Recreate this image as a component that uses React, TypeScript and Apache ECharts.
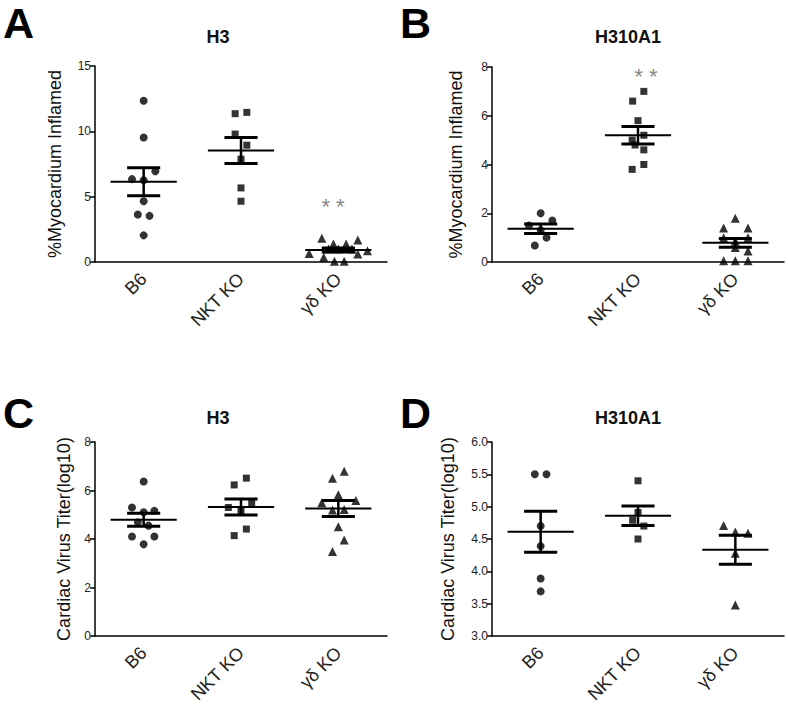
import React, { useEffect, useRef } from 'react';
import * as echarts from 'echarts';

const categories = ['B6', 'NKT KO', 'γδ KO'];
const panelLetters = ['A', 'B', 'C', 'D'];
const panelTitles = ['H3', 'H310A1', 'H3', 'H310A1'];
const yNames = ['%Myocardium Inflamed', '%Myocardium Inflamed', 'Cardiac Virus Titer(log10)', 'Cardiac Virus Titer(log10)'];
const yMin = [0, 0, 0, 3];
const yMax = [15, 8, 8, 6];
const yStep = [5, 2, 2, 0.5];

// Panel A (H3, % myocardium inflamed)
const aB6 = [12.34, 9.53, 6.34, 6.95, 6.26, 4.65, 3.63, 3.53, 2.04];
const aB6Jit = [0, 0, -0.12, 0.12, 0, 0, -0.06, 0.06, 0];
const aNkt = [11.35, 11.45, 9.79, 8.94, 7.87, 5.67, 4.65];
const aNktJit = [-0.06, 0.06, -0.06, 0.06, 0, 0, 0];
const aGd = [1.81, 1.68, 1.38, 1.38, 1.0, 1.0, 1.0, 0.87, 0.66, 0.62, 0.36, 0.05, 0.05];
const aGdJit = [-0.17, 0.2, -0.05, 0.08, -0.1, 0.0, 0.14, 0.3, -0.3, 0.2, -0.15, -0.04, 0.06];

// Panel B (H310A1, % myocardium inflamed)
const bB6 = [2.0, 1.7, 1.5, 1.3, 1.0, 0.68];
const bB6Jit = [0, 0.12, -0.12, 0, 0.06, -0.06];
const bNkt = [7.0, 6.6, 5.8, 5.2, 5.0, 4.8, 4.6, 4.0, 3.8];
const bNktJit = [0.06, -0.055, 0, 0.06, -0.06, -0.03, 0.06, 0.06, -0.06];
const bGd = [1.8, 1.4, 1.4, 1.0, 1.0, 0.85, 0.6, 0.45, 0.05, 0.05, 0.05];
const bGdJit = [0, -0.12, 0.13, -0.12, 0.13, 0, 0, 0.13, -0.12, 0, 0.13];

// Panel C (H3, cardiac virus titer)
const cB6 = [6.37, 5.3, 5.1, 5.16, 4.69, 4.55, 4.1, 4.1, 3.78];
const cB6Jit = [0, -0.12, 0, 0.11, -0.06, 0.05, -0.12, 0.11, 0];
const cNkt = [6.51, 6.23, 5.3, 5.48, 5.16, 4.41, 4.14];
const cNktJit = [0.055, -0.07, -0.13, 0.11, 0, 0.055, -0.07];
const cGd = [6.79, 6.51, 5.82, 5.5, 5.59, 5.2, 5.22, 4.51, 3.96, 3.48];
const cGdJit = [0.06, -0.06, 0, -0.17, 0.18, -0.06, 0.06, 0, 0.06, -0.06];

// Panel D (H310A1, cardiac virus titer)
const dB6 = [5.5, 5.5, 4.7, 4.39, 3.89, 3.69];
const dB6Jit = [-0.06, 0.06, 0, 0, 0, 0];
const dNkt = [5.4, 4.91, 4.79, 4.7, 4.5];
const dNktJit = [0, 0, -0.055, 0.06, 0];
const dGd = [4.71, 4.61, 4.59, 4.28, 3.48];
const dGdJit = [-0.12, 0, 0.13, 0, 0];

const panelGroups = [
  [[aB6, aB6Jit], [aNkt, aNktJit], [aGd, aGdJit]],
  [[bB6, bB6Jit], [bNkt, bNktJit], [bGd, bGdJit]],
  [[cB6, cB6Jit], [cNkt, cNktJit], [cGd, cGdJit]],
  [[dB6, dB6Jit], [dNkt, dNktJit], [dGd, dGdJit]],
];

const symbols = ['circle', 'rect', 'triangle'];
const symbolSizes = [8, 7, 9];

const grids = [
  { left: 95, top: 66, width: 292, height: 196 },
  { left: 492, top: 67, width: 292, height: 195 },
  { left: 95, top: 442, width: 292, height: 194 },
  { left: 492, top: 442, width: 292, height: 194 },
];
const nameGaps = [31, 27, 22, 35];

const FONT = '"Liberation Sans", Arial, Helvetica, sans-serif';

function mean(a: number[]) {
  return a.reduce((s, v) => s + v, 0) / a.length;
}
function sem(a: number[]) {
  const m = mean(a);
  const v = a.reduce((s, x) => s + (x - m) * (x - m), 0) / (a.length - 1);
  return Math.sqrt(v) / Math.sqrt(a.length);
}

export default function App() {
  const ref = useRef<HTMLDivElement>(null);
  useEffect(() => {
    if (!ref.current) return;
    const chart = echarts.init(ref.current, undefined, { renderer: 'svg' });
    const xAxis: any[] = [];
    const yAxis: any[] = [];
    const series: any[] = [];
    grids.forEach((g, i) => {
      xAxis.push({
        type: 'category',
        gridIndex: i,
        data: categories,
        boundaryGap: true,
        axisLine: { onZero: false, lineStyle: { color: '#000', width: 1.5 } },
        axisTick: { alignWithLabel: true, length: 5, lineStyle: { color: '#000', width: 1.5 } },
        axisLabel: { rotate: 45, fontSize: 18, color: '#222', margin: 14, fontFamily: FONT },
        splitLine: { show: false },
      });
      xAxis.push({ type: 'value', gridIndex: i, min: 0.5, max: 3.5, show: false });
      yAxis.push({
        type: 'value',
        gridIndex: i,
        min: yMin[i],
        max: yMax[i],
        interval: yStep[i],
        name: yNames[i],
        nameLocation: 'middle',
        nameRotate: 90,
        nameGap: nameGaps[i],
        nameTextStyle: { fontSize: 18, color: '#111', fontFamily: FONT },
        axisLine: { show: true, lineStyle: { color: '#000', width: 1.5 } },
        axisTick: { show: true, length: 5, lineStyle: { color: '#000', width: 1.5 } },
        axisLabel: {
          fontSize: 12,
          color: '#222',
          margin: 4,
          fontFamily: FONT,
          formatter: (v: number) => (i === 3 ? v.toFixed(1) : String(v)),
        },
        splitLine: { show: false },
      });
      const groups = panelGroups[i];
      groups.forEach((grp, k) => {
        const vals = grp[0] as number[];
        const jit = grp[1] as number[];
        series.push({
          type: 'scatter',
          xAxisIndex: 2 * i + 1,
          yAxisIndex: i,
          symbol: symbols[k],
          symbolSize: symbolSizes[k],
          itemStyle: { color: '#000' },
          data: vals.map((v, j) => [k + 1 + jit[j], v]),
          z: 3,
        });
      });
      series.push({
        type: 'custom',
        xAxisIndex: 2 * i + 1,
        yAxisIndex: i,
        z: 4,
        data: groups.map((grp, k) => [k + 1, mean(grp[0] as number[]), sem(grp[0] as number[])]),
        encode: { x: 0, y: 1 },
        renderItem: (params: any, api: any) => {
          const x = api.value(0);
          const m = api.value(1);
          const s = api.value(2);
          const c = api.coord([x, m]);
          const hi = api.coord([x, m + s]);
          const lo = api.coord([x, m - s]);
          const w = api.size([1, 0])[0];
          const st = (lw: number) => ({ stroke: '#000', lineWidth: lw });
          return {
            type: 'group',
            children: [
              { type: 'line', shape: { x1: c[0] - 0.34 * w, y1: c[1], x2: c[0] + 0.34 * w, y2: c[1] }, style: st(2) },
              { type: 'line', shape: { x1: c[0], y1: hi[1], x2: c[0], y2: lo[1] }, style: st(2.5) },
              { type: 'line', shape: { x1: c[0] - 0.17 * w, y1: hi[1], x2: c[0] + 0.17 * w, y2: hi[1] }, style: st(3) },
              { type: 'line', shape: { x1: c[0] - 0.17 * w, y1: lo[1], x2: c[0] + 0.17 * w, y2: lo[1] }, style: st(3) },
            ],
          };
        },
      });
    });

    const letterPos = [[3, 23], [400, 23], [3, 413], [400, 413]];
    const titlePos = [[218, 37], [628, 37], [218, 418], [628, 418]];
    const graphic: any[] = [];
    panelLetters.forEach((t, i) => {
      graphic.push({
        type: 'text',
        x: letterPos[i][0],
        y: letterPos[i][1],
        style: { text: t, font: `bold 43px ${FONT}`, fill: '#000', textVerticalAlign: 'middle', textAlign: 'left' },
      });
      graphic.push({
        type: 'text',
        x: titlePos[i][0],
        y: titlePos[i][1],
        style: { text: panelTitles[i], font: `bold 18px ${FONT}`, fill: '#111', textVerticalAlign: 'middle', textAlign: 'center' },
      });
    });
    graphic.push({
      type: 'text', x: 333, y: 206,
      style: { text: '* *', font: `22px ${FONT}`, fill: '#888', textAlign: 'center', textVerticalAlign: 'middle' },
    });
    graphic.push({
      type: 'text', x: 646, y: 76,
      style: { text: '* *', font: `22px ${FONT}`, fill: '#888', textAlign: 'center', textVerticalAlign: 'middle' },
    });

    chart.setOption({
      animation: false,
      backgroundColor: '#fff',
      textStyle: { fontFamily: FONT },
      grid: grids.map((g) => ({ ...g, containLabel: false })),
      xAxis,
      yAxis,
      series,
      graphic,
    });
    return () => chart.dispose();
  }, []);
  return (
    <div
      ref={ref}
      style={{ position: 'absolute', left: 0, top: 0, width: 788, height: 712 }}
    />
  );
}
